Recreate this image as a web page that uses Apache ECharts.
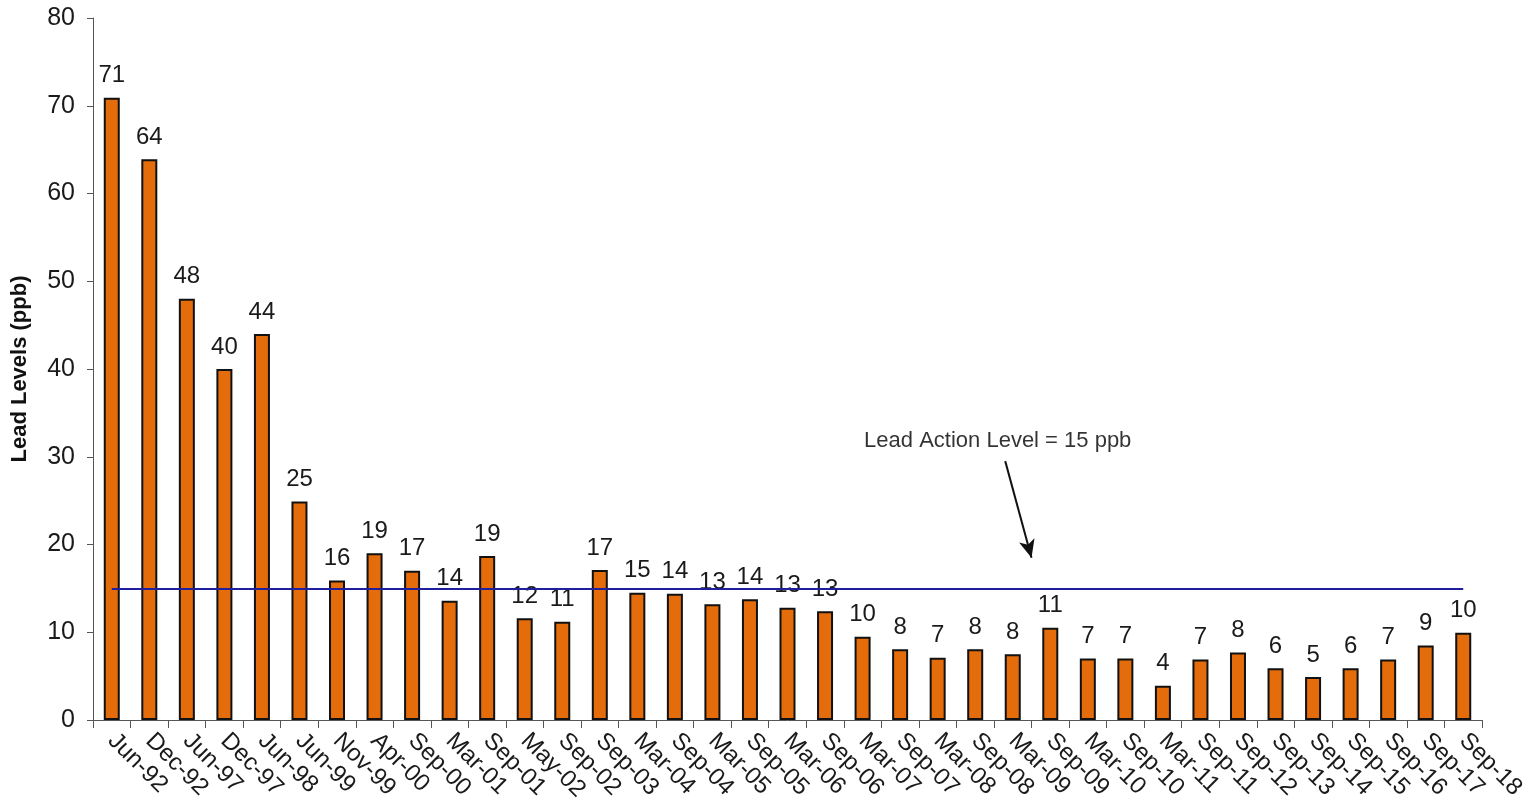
<!DOCTYPE html>
<html>
<head>
<meta charset="utf-8">
<script src="https://cdn.jsdelivr.net/npm/echarts@6/dist/echarts.min.js"></script>
<style>
html,body{margin:0;padding:0;background:#fff;}
#chart{width:1531px;height:809px;}
</style>
</head>
<body>
<div id="chart"></div>
<script>
const categories = ['Jun-92','Dec-92','Jun-97','Dec-97','Jun-98','Jun-99','Nov-99','Apr-00','Sep-00','Mar-01','Sep-01','May-02','Sep-02','Sep-03','Mar-04','Sep-04','Mar-05','Sep-05','Mar-06','Sep-06','Mar-07','Sep-07','Mar-08','Sep-08','Mar-09','Sep-09','Mar-10','Sep-10','Mar-11','Sep-11','Sep-12','Sep-13','Sep-14','Sep-15','Sep-16','Sep-17','Sep-18'];
const leadValues = [70.9,63.9,48.0,40.0,44.0,24.9,15.9,19.0,17.0,13.6,18.7,11.6,11.2,17.1,14.5,14.4,13.2,13.75,12.8,12.4,9.5,8.05,7.1,8.05,7.5,10.5,7.0,7.0,3.9,6.9,7.7,5.9,4.9,5.9,6.9,8.5,9.95];
const valueLabels = [71,64,48,40,44,25,16,19,17,14,19,12,11,17,15,14,13,14,13,13,10,8,7,8,8,11,7,7,4,7,8,6,5,6,7,9,10];
const actionLevel = 15;
const yTicks = {min:0, max:80, interval:10};
const annotationText = 'Lead Action Level = 15 ppb';
const annotationPos = [24.1, 31.8];
const arrowStart = [24.3, 29.5];
const arrowEnd = [25.0, 18.5];

const chart = echarts.init(document.getElementById('chart'));
const font = '"Liberation Sans", Arial, sans-serif';
chart.setOption({
  animation:false,
  backgroundColor:'#fff',
  grid:{left:93, right:49, top:18, bottom:89, containLabel:false, outerBoundsMode:'none'},
  xAxis:[{
    type:'category',
    data:categories,
    boundaryGap:true,
    axisLine:{show:true, lineStyle:{color:'#555', width:1}},
    axisTick:{show:true, alignWithLabel:false, length:8, lineStyle:{color:'#555'}},
    axisLabel:{rotate:-45, interval:0, margin:17, fontSize:24, color:'#1a1a1a', fontFamily:font},
    splitLine:{show:false}
  },{
    type:'value', min:0, max:categories.length, show:false
  }],
  yAxis:{
    type:'value', min:yTicks.min, max:yTicks.max, interval:yTicks.interval,
    name:'Lead Levels (ppb)', nameLocation:'middle', nameGap:62,
    nameTextStyle:{fontSize:22, fontWeight:'bold', color:'#111', fontFamily:font},
    axisLine:{show:true, lineStyle:{color:'#555', width:1}},
    axisTick:{show:true, length:6, lineStyle:{color:'#555'}},
    axisLabel:{fontSize:25, color:'#1a1a1a', margin:18, fontFamily:font},
    splitLine:{show:false}
  },
  series:[{
    type:'bar',
    data:leadValues,
    barWidth:16,
    itemStyle:{color:'#E46C0A', borderColor:'#111', borderWidth:2},
    label:{show:true, position:'top', distance:10, fontSize:24, color:'#1a1a1a', fontFamily:font,
      formatter:p=>valueLabels[p.dataIndex]},
    markLine:{
      silent:true, symbol:['none','none'],
      lineStyle:{color:'#1f1f9e', width:2, type:'solid'},
      label:{show:false},
      data:[[{coord:[categories[0], actionLevel]},{coord:[categories[categories.length-1], actionLevel]}]]
    }
  },{
    type:'scatter',
    xAxisIndex:1,
    data:[annotationPos],
    symbolSize:1,
    itemStyle:{color:'transparent'},
    label:{show:true, position:'inside', formatter:annotationText, fontSize:22, color:'#000', fontFamily:font},
    markLine:{
      silent:true, symbol:['none','arrow'], symbolSize:[12,18],
      lineStyle:{color:'#111', width:2, type:'solid'},
      label:{show:false},
      data:[[{coord:arrowStart},{coord:arrowEnd}]]
    }
  }]
});
</script>
</body>
</html>
